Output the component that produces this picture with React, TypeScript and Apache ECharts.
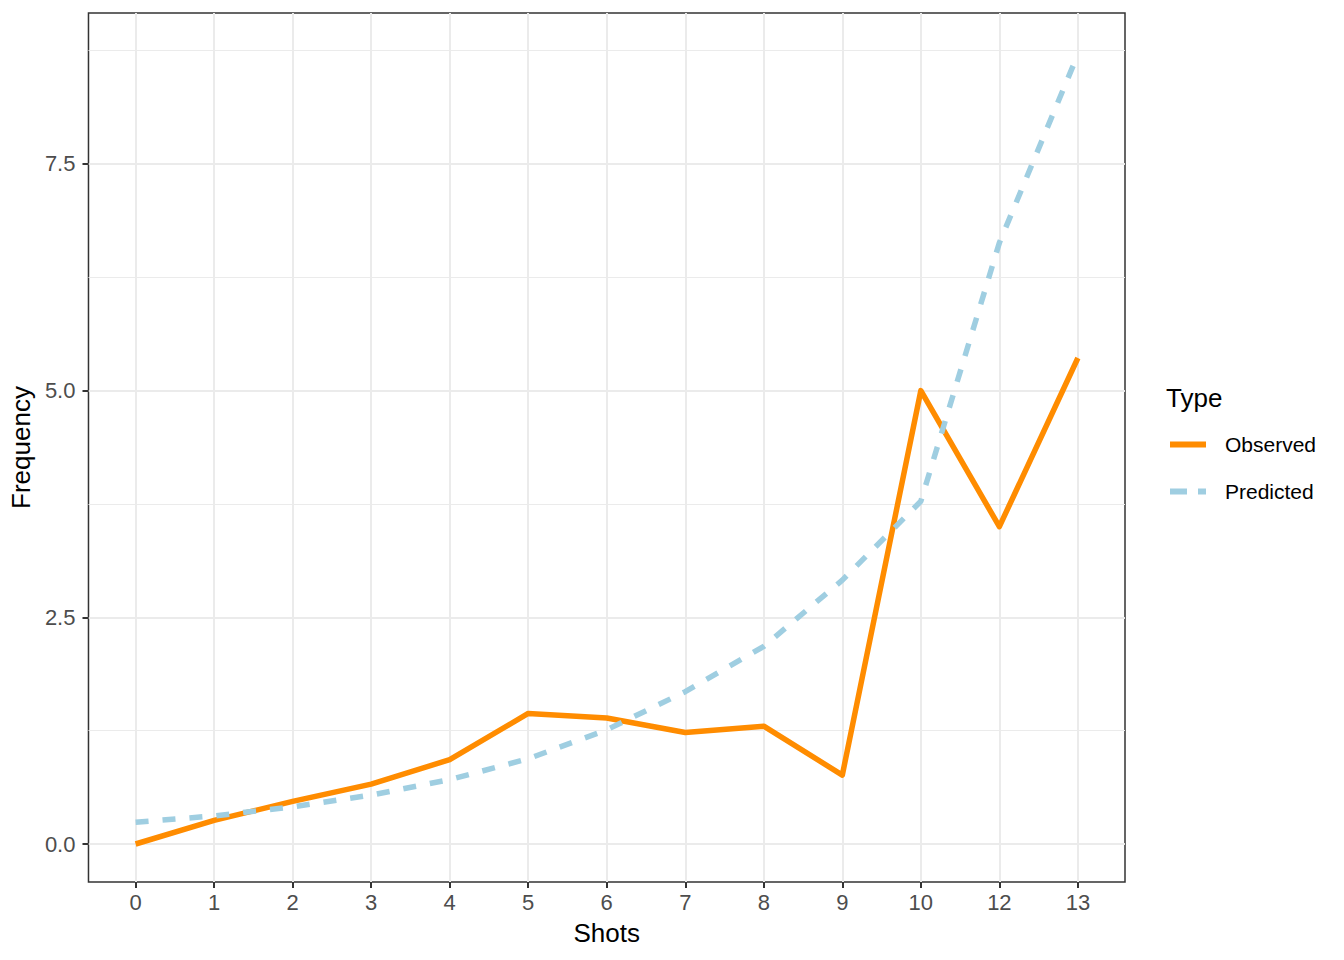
import React, { useEffect, useRef } from "react";
import * as echarts from "echarts";

const categories = ["0", "1", "2", "3", "4", "5", "6", "7", "8", "9", "10", "12", "13"];
const observed = [0, 0.26, 0.47, 0.66, 0.93, 1.44, 1.39, 1.23, 1.3, 0.76, 5.0, 3.5, 5.36];
const predicted = [0.24, 0.31, 0.41, 0.54, 0.71, 0.94, 1.26, 1.68, 2.18, 2.91, 3.78, 6.63, 8.71];
const yMajorTicks = [0, 2.5, 5, 7.5];
const yMinorTicks = [1.25, 3.75, 6.25, 8.75];
const seriesNames = ["Observed", "Predicted"];
const legendTitle = "Type";
const xTitle = "Shots";
const yTitle = "Frequency";

const FONT = "'Liberation Sans', Arial, Helvetica, sans-serif";
const Y_MIN = -0.419;
const Y_MAX = 9.165;

export default function App() {
  const ref = useRef<HTMLDivElement>(null);
  useEffect(() => {
    if (!ref.current) return;
    const chart = echarts.init(ref.current, null, { renderer: "svg" });
    const idx = categories.map((_, i) => i);
    const obsData = observed.map((v, i) => [i, v]);
    const predData = predicted.map((v, i) => [i, v]);
    chart.setOption({
      animation: false,
      backgroundColor: "#ffffff",
      title: {
        text: legendTitle,
        left: 1166,
        top: 385,
        padding: 0,
        textStyle: { fontFamily: FONT, fontSize: 26, fontWeight: "normal", color: "#000" },
      },
      legend: {
        orient: "vertical",
        left: 1170,
        top: 434,
        itemWidth: 36,
        itemHeight: 6,
        itemGap: 26,
        padding: 0,
        symbolKeepAspect: false,
        data: [
          { name: seriesNames[0], icon: "path://M0,0h36v6h-36z" },
          { name: seriesNames[1], icon: "path://M0,0h17v6h-17z M28,0h8v6h-8z" },
        ],
        textStyle: { fontFamily: FONT, fontSize: 21, color: "#000", padding: [0, 0, 0, 14] },
      },
      grid: {
        left: 87,
        right: 219,
        top: 13,
        bottom: 78,
        show: true,
        borderColor: "#333333",
        borderWidth: 1.5,
        backgroundColor: "transparent",
      },
      xAxis: {
        type: "value",
        min: -0.6,
        max: 12.6,
        name: xTitle,
        nameLocation: "middle",
        nameGap: 38,
        nameTextStyle: { fontFamily: FONT, fontSize: 26, color: "#000" },
        axisLine: { show: false, onZero: false },
        axisTick: { show: true, length: 6, customValues: idx, lineStyle: { color: "#333333", width: 2 } },
        axisLabel: {
          customValues: idx,
          margin: 9,
          fontFamily: FONT,
          fontSize: 22,
          color: "#4D4D4D",
          formatter: (v: number) => categories[Math.round(v)] ?? "",
        },
        splitLine: { show: true, lineStyle: { color: "#EBEBEB", width: 2 } },
      },
      yAxis: [
        {
          type: "value",
          min: Y_MIN,
          max: Y_MAX,
          name: yTitle,
          nameLocation: "middle",
          nameGap: 54,
          nameTextStyle: { fontFamily: FONT, fontSize: 26, color: "#000" },
          axisLine: { show: false, onZero: false },
          axisTick: { show: true, length: 6, customValues: yMajorTicks, lineStyle: { color: "#333333", width: 2 } },
          axisLabel: {
            customValues: yMajorTicks,
            margin: 13,
            fontFamily: FONT,
            fontSize: 22,
            color: "#4D4D4D",
            formatter: (v: number) => v.toFixed(1),
          },
          splitLine: { show: true, lineStyle: { color: "#EBEBEB", width: 2 } },
        },
        {
          type: "value",
          position: "left",
          min: Y_MIN,
          max: Y_MAX,
          axisLine: { show: false, onZero: false },
          axisTick: { show: false, customValues: yMinorTicks },
          axisLabel: { show: false, customValues: yMinorTicks },
          splitLine: { show: true, lineStyle: { color: "#EBEBEB", width: 1.2 } },
        },
      ],
      series: [
        {
          name: seriesNames[0],
          type: "line",
          data: obsData,
          yAxisIndex: 0,
          symbol: "none",
          color: "#FF8C00",
          lineStyle: { color: "#FF8C00", width: 5.5, cap: "butt", join: "round" },
          z: 3,
        },
        {
          name: seriesNames[1],
          type: "line",
          data: predData,
          yAxisIndex: 0,
          symbol: "none",
          color: "#9FCEE1",
          lineStyle: { color: "#9FCEE1", width: 5.5, type: [13, 14], cap: "butt", join: "round" },
          z: 4,
        },
      ],
    });
    return () => chart.dispose();
  }, []);
  return (
    <div
      ref={ref}
      style={{ position: "absolute", left: 0, top: 0, width: 1344, height: 960 }}
    />
  );
}
